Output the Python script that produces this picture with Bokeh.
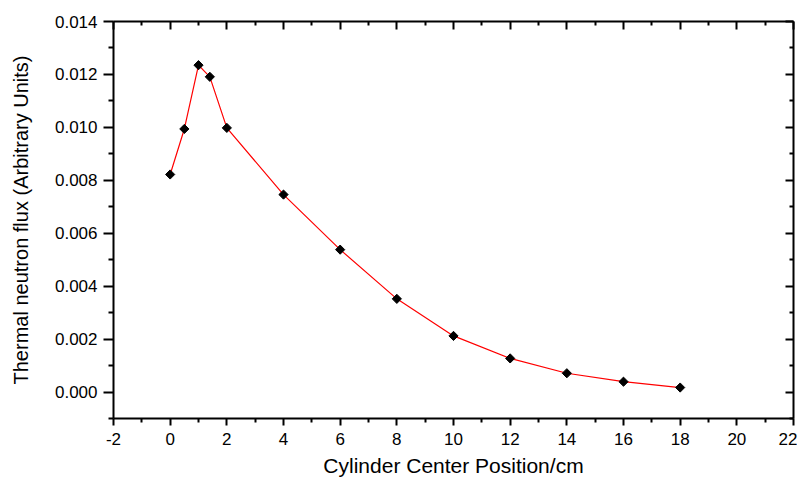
import math
from bokeh.plotting import figure
from bokeh.models import LinearAxis, FixedTicker, NumeralTickFormatter, Range1d
from bokeh.embed import file_html
from bokeh.resources import INLINE

# Data
position_cm = [0, 0.5, 1, 1.4, 2, 4, 6, 8, 10, 12, 14, 16, 18]
thermal_flux = [0.00822, 0.00994, 0.01235, 0.01191, 0.00998, 0.00746, 0.00538,
                0.00352, 0.00212, 0.00127, 0.00071, 0.00039, 0.00017]

x_major = [-2, 0, 2, 4, 6, 8, 10, 12, 14, 16, 18, 20, 22]
x_minor = [-1, 1, 3, 5, 7, 9, 11, 13, 15, 17, 19, 21]
y_major = [0.000, 0.002, 0.004, 0.006, 0.008, 0.010, 0.012, 0.014]
y_minor = [-0.001, 0.001, 0.003, 0.005, 0.007, 0.009, 0.011, 0.013]

FONT = "Liberation Sans"

p = figure(width=797, height=479, output_backend="svg", toolbar_location=None,
           x_range=Range1d(-2, 22), y_range=Range1d(-0.001, 0.014),
           min_border_left=113, min_border_right=4, min_border_top=21,
           min_border_bottom=61, x_axis_label="Cylinder Center Position/cm",
           y_axis_label="Thermal neutron flux (Arbitrary Units)")
p.grid.visible = False
p.outline_line_color = None
p.background_fill_color = "white"
p.border_fill_color = "white"

xt = FixedTicker(ticks=x_major, minor_ticks=x_minor)
yt = FixedTicker(ticks=y_major, minor_ticks=y_minor)

xa = p.xaxis[0]
xa.ticker = xt
xa.major_label_overrides = {v: str(v) for v in x_major}
xa.axis_line_width = 2
xa.major_tick_line_width = 2
xa.minor_tick_line_width = 2
xa.major_tick_out = 7
xa.major_tick_in = 0
xa.minor_tick_out = 4
xa.minor_tick_in = 0
xa.major_label_standoff = 7
xa.major_label_text_font = FONT
xa.major_label_text_font_size = "17px"
xa.major_label_text_color = "black"
xa.axis_label_text_font = FONT
xa.axis_label_text_font_size = "21px"
xa.axis_label_text_font_style = "normal"
xa.axis_label_text_color = "black"
xa.axis_label_standoff = 6

ya = p.yaxis[0]
ya.ticker = yt
ya.formatter = NumeralTickFormatter(format="0.000")
ya.axis_line_width = 2
ya.major_tick_line_width = 2
ya.minor_tick_line_width = 2
ya.major_tick_out = 10
ya.major_tick_in = 0
ya.minor_tick_out = 5
ya.minor_tick_in = 0
ya.major_label_standoff = 6
ya.major_label_text_font = FONT
ya.major_label_text_font_size = "17px"
ya.major_label_text_color = "black"
ya.axis_label_text_font = FONT
ya.axis_label_text_font_size = "20px"
ya.axis_label_text_font_style = "normal"
ya.axis_label_text_color = "black"
ya.axis_label_standoff = 20

for loc in ("above", "right"):
    ax = LinearAxis(ticker=xt if loc == "above" else yt)
    ax.axis_line_width = 2
    ax.major_tick_line_width = 2
    ax.minor_tick_line_width = 2
    ax.major_tick_in = 8
    ax.major_tick_out = 0
    ax.minor_tick_in = 4
    ax.minor_tick_out = 0
    ax.major_label_text_font_size = "0px"
    ax.major_label_text_color = None
    ax.major_label_standoff = 0
    p.add_layout(ax, loc)

p.line(position_cm, thermal_flux, line_color="red", line_width=1.2)
p.scatter(position_cm, thermal_flux, marker="square", angle=math.pi / 4, size=6.5,
          fill_color="black", line_color="black")

open("out.html", "w").write(file_html(p, INLINE))
